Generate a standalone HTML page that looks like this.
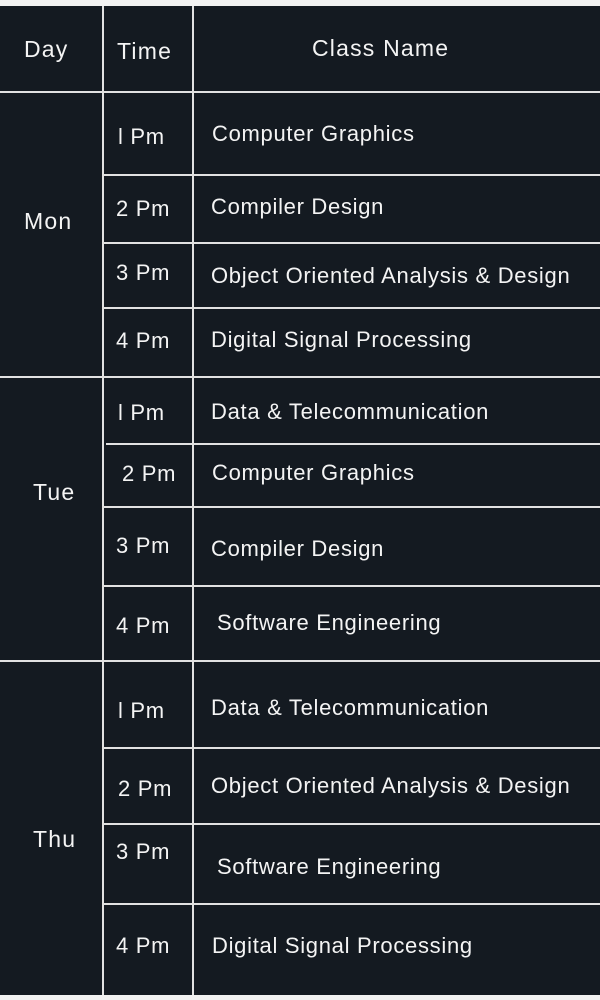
<!DOCTYPE html>
<html><head><meta charset="utf-8"><style>
html,body{margin:0;padding:0;background:#f2f2f2;}
svg{display:block}
text{font-family:"Liberation Sans",sans-serif;fill:#f4f4f4;font-size:22px;letter-spacing:0.7px;}
.h{font-size:23px;letter-spacing:1.2px;}
</style></head><body>
<svg width="600" height="1000">
<rect x="0" y="6" width="600" height="989" fill="#141a21"/>
<g stroke="#e2e2e2" stroke-width="2">
<line x1="103" y1="6" x2="103" y2="995"/>
<line x1="193" y1="6" x2="193" y2="995"/>
<line x1="0" y1="92" x2="600" y2="92"/>
<line x1="103" y1="175" x2="600" y2="175"/>
<line x1="103" y1="243" x2="600" y2="243"/>
<line x1="103" y1="308" x2="600" y2="308"/>
<line x1="0" y1="377" x2="600" y2="377"/>
<line x1="106" y1="444" x2="600" y2="444"/>
<line x1="103" y1="507" x2="600" y2="507"/>
<line x1="103" y1="586" x2="600" y2="586"/>
<line x1="0" y1="661" x2="600" y2="661"/>
<line x1="103" y1="748" x2="600" y2="748"/>
<line x1="103" y1="824" x2="600" y2="824"/>
<line x1="103" y1="904" x2="600" y2="904"/>
</g>
<g>
<text class="h" x="24" y="57">Day</text>
<text class="h" x="117" y="59">Time</text>
<text class="h" x="312" y="56">Class Name</text>
</g>
<g>
<text class="h" x="24" y="229">Mon</text>
<text class="h" x="33" y="500">Tue</text>
<text class="h" x="33" y="847">Thu</text>
</g>
<g>
<text x="118" y="144">l Pm</text>
<text x="116" y="216">2 Pm</text>
<text x="116" y="280">3 Pm</text>
<text x="116" y="348">4 Pm</text>
<text x="118" y="420">l Pm</text>
<text x="122" y="481">2 Pm</text>
<text x="116" y="553">3 Pm</text>
<text x="116" y="633">4 Pm</text>
<text x="118" y="718">l Pm</text>
<text x="118" y="796">2 Pm</text>
<text x="116" y="859">3 Pm</text>
<text x="116" y="953">4 Pm</text>
</g>
<g>
<text x="212" y="141">Computer Graphics</text>
<text x="211" y="214">Compiler Design</text>
<text x="211" y="283">Object Oriented Analysis &amp; Design</text>
<text x="211" y="347">Digital Signal Processing</text>
<text x="211" y="419">Data &amp; Telecommunication</text>
<text x="212" y="480">Computer Graphics</text>
<text x="211" y="556">Compiler Design</text>
<text x="217" y="630">Software Engineering</text>
<text x="211" y="715">Data &amp; Telecommunication</text>
<text x="211" y="793">Object Oriented Analysis &amp; Design</text>
<text x="217" y="874">Software Engineering</text>
<text x="212" y="953">Digital Signal Processing</text>
</g>
</svg>
</body></html>
